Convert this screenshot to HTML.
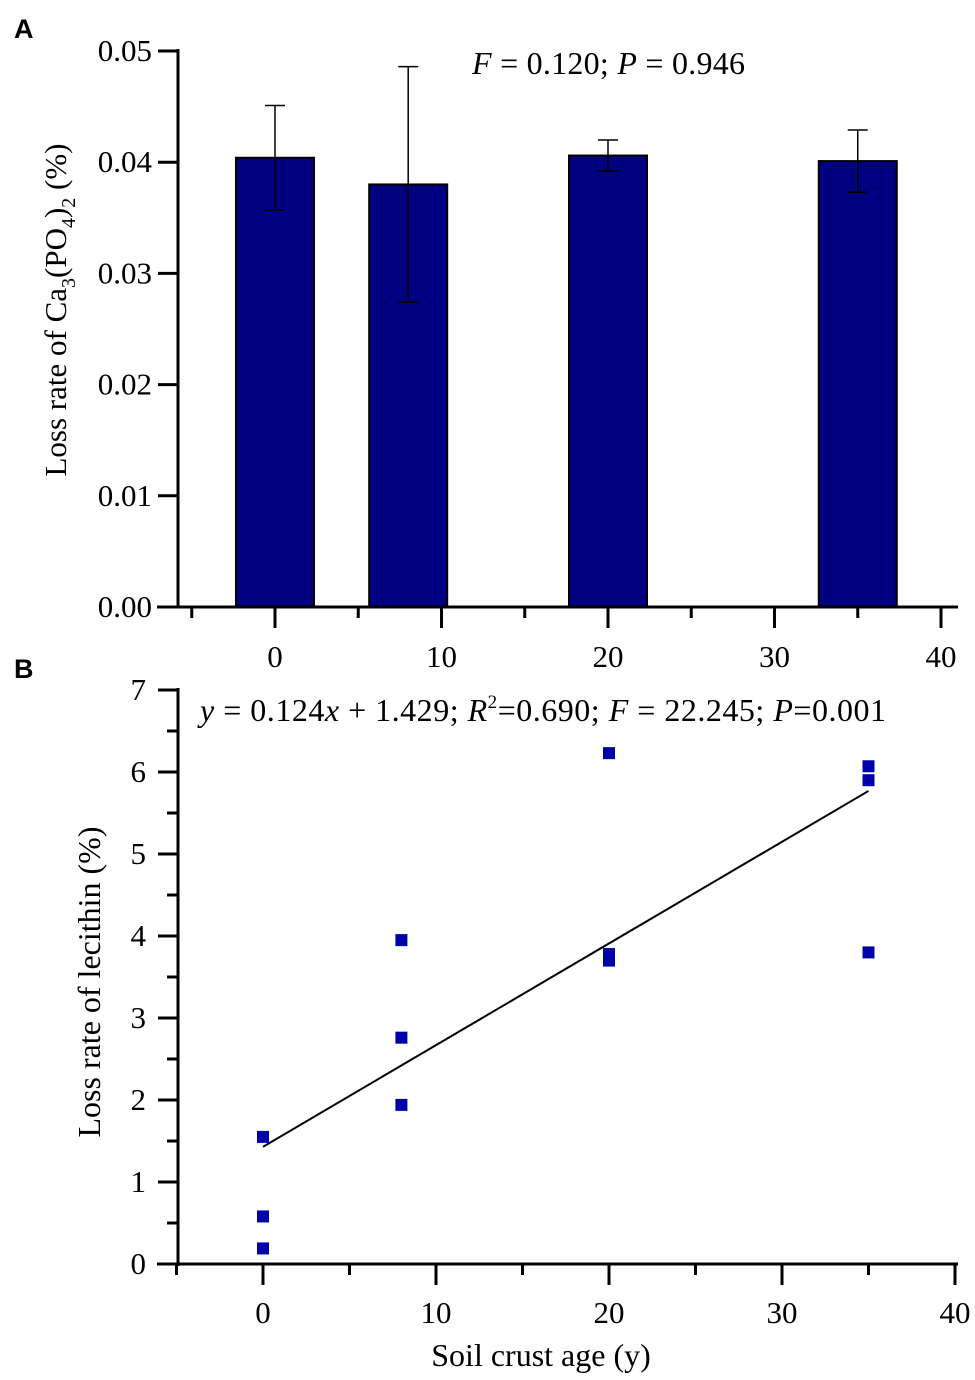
<!DOCTYPE html>
<html><head><meta charset="utf-8"><style>
body{margin:0;background:#fff}
svg text{font-family:"Liberation Serif",serif;fill:#000}
</style></head><body>
<svg id="c" width="975" height="1375" xmlns="http://www.w3.org/2000/svg">
<text x="14" y="38" style="font-family:'Liberation Sans',sans-serif;font-weight:bold;font-size:27px">A</text>
<text x="14" y="678" style="font-family:'Liberation Sans',sans-serif;font-weight:bold;font-size:27px">B</text>
<text x="472" y="74" font-size="32" textLength="273"><tspan font-style="italic">F</tspan> = 0.120; <tspan font-style="italic">P</tspan> = 0.946</text>
<text x="200" y="721" font-size="32" textLength="686"><tspan font-style="italic">y</tspan> = 0.124<tspan font-style="italic">x</tspan> + 1.429;  <tspan font-style="italic">R</tspan><tspan dy="-13" font-size="19">2</tspan><tspan dy="13">=0.690; </tspan><tspan font-style="italic">F</tspan> = 22.245; <tspan font-style="italic">P</tspan>=0.001</text>
<text transform="translate(66,310) rotate(-90)" text-anchor="middle" font-size="31">Loss rate of Ca<tspan dy="9" font-size="20">3</tspan><tspan dy="-9">(PO</tspan><tspan dy="9" font-size="20">4</tspan><tspan dy="-9">)</tspan><tspan dy="9" font-size="20">2</tspan><tspan dy="-9"> (%)</tspan></text>
<text transform="translate(100,982) rotate(-90)" text-anchor="middle" font-size="32">Loss rate of lecithin (%)</text>
<text x="541" y="1366" text-anchor="middle" font-size="32">Soil crust age (y)</text>
<g id="ga"></g><g id="gb"></g>
</svg>
<script>
const barAges=[0,8,20,35];
const barMeans=[0.0404,0.0380,0.0406,0.0401];
const barErr=[0.0047,0.0106,0.0014,0.0028];
const aYTicks=[0,0.01,0.02,0.03,0.04,0.05];
const xTicks=[0,10,20,30,40];
const ptAges=[0,0,0,8,8,8,20,20,20,35,35,35];
const ptVals=[1.55,0.58,0.19,3.95,2.76,1.94,6.23,3.78,3.70,6.07,5.90,3.80];
const bYTicks=[0,1,2,3,4,5,6,7];
const fitSlope=0.124, fitIntercept=1.429;
const NS="http://www.w3.org/2000/svg";
function mk(p,t,a){const e=document.createElementNS(NS,t);for(const k in a)e.setAttribute(k,a[k]);p.appendChild(e);return e;}
// panel A
const ga=document.getElementById('ga');
const ax=v=>275+v*16.65, ay=v=>607-v*11120;
aYTicks.forEach(t=>{const l=mk(ga,'line',{x1:158,x2:178,y1:ay(t),y2:ay(t),stroke:'#000','stroke-width':3});

const tx=mk(ga,'text',{x:170,y:ay(t)+10,'text-anchor':'end','font-size':31,'dx':-18});tx.textContent=t.toFixed(2);
});
barAges.forEach((a,i)=>{const x=ax(a),y=ay(barMeans[i]);
const r=mk(ga,'rect',{x:x-39,y:y,width:78,height:607-y,fill:'#000080',stroke:'#000','stroke-width':2});

const y1=ay(barMeans[i]+barErr[i]),y2=ay(barMeans[i]-barErr[i]);
const e=mk(ga,'path',{d:`M${x},${y1}V${y2}M${x-10},${y1}H${x+10}M${x-10},${y2}H${x+10}`,stroke:'#000','stroke-width':1.5,fill:'none'});
});
let l1=mk(ga,'line',{x1:178,x2:178,y1:49,y2:608,stroke:'#000','stroke-width':3});

l1=mk(ga,'line',{x1:157,x2:958,y1:607,y2:607,stroke:'#000','stroke-width':3});

[-5,5,15,25,35].forEach(t=>{const l=mk(ga,'line',{x1:ax(t),x2:ax(t),y1:607,y2:618,stroke:'#000','stroke-width':3});
});
xTicks.forEach(t=>{const l=mk(ga,'line',{x1:ax(t),x2:ax(t),y1:607,y2:628,stroke:'#000','stroke-width':3});

const tx=mk(ga,'text',{x:ax(t),y:667,'text-anchor':'middle','font-size':31});tx.textContent=t;
});
// panel B
const gb=document.getElementById('gb');
const bx=v=>263+v*17.3, by=v=>1264-v*82;
bYTicks.forEach(t=>{const l=mk(gb,'line',{x1:158,x2:178,y1:by(t),y2:by(t),stroke:'#000','stroke-width':3});

if(t<7){const m=mk(gb,'line',{x1:167,x2:178,y1:by(t+0.5),y2:by(t+0.5),stroke:'#000','stroke-width':3});
}
const tx=mk(gb,'text',{x:146,y:by(t)+10,'text-anchor':'end','font-size':31});tx.textContent=t;
});
l1=mk(gb,'line',{x1:178,x2:178,y1:688,y2:1266,stroke:'#000','stroke-width':3});

l1=mk(gb,'line',{x1:157,x2:958,y1:1264,y2:1264,stroke:'#000','stroke-width':3});

[-5,5,15,25,35].forEach(t=>{const l=mk(gb,'line',{x1:bx(t),x2:bx(t),y1:1264,y2:1275,stroke:'#000','stroke-width':3});
});
xTicks.forEach(t=>{const l=mk(gb,'line',{x1:bx(t),x2:bx(t),y1:1264,y2:1285,stroke:'#000','stroke-width':3});

const tx=mk(gb,'text',{x:bx(t),y:1323,'text-anchor':'middle','font-size':31});tx.textContent=t;
});
const fl=mk(gb,'line',{x1:bx(0),y1:by(fitIntercept),x2:bx(35),y2:by(fitIntercept+fitSlope*35),stroke:'#000','stroke-width':2});

ptAges.forEach((a,i)=>{const r=mk(gb,'rect',{x:bx(a)-6,y:by(ptVals[i])-6,width:12,height:12,fill:'#0000a8'});
});
</script>
</body></html>
